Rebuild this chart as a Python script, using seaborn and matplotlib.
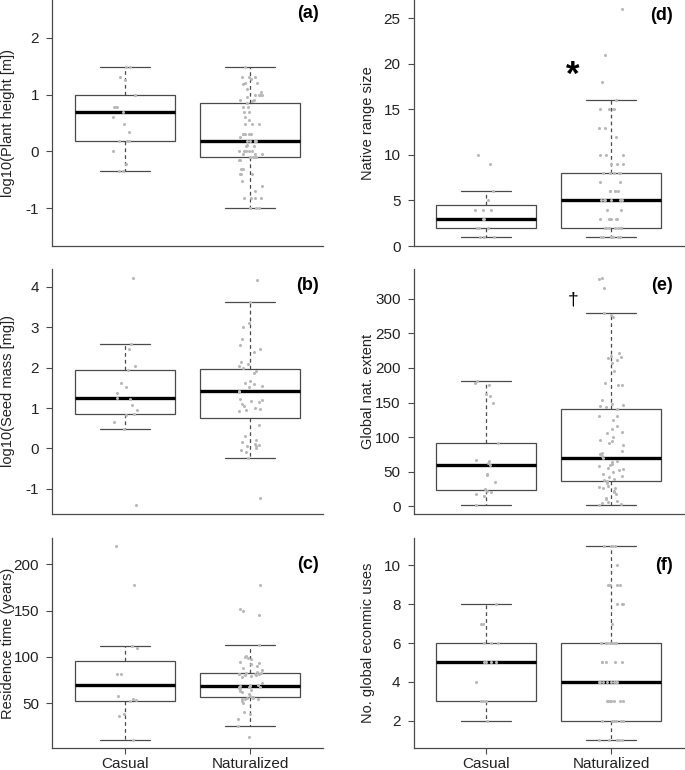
import numpy as np
import pandas as pd
import matplotlib
matplotlib.use("Agg")
import matplotlib.pyplot as plt
import seaborn as sns

sns.set_theme(style="ticks")
plt.rcParams["font.family"] = ["Liberation Sans", "DejaVu Sans"]

groups = ["Casual", "Naturalized"]

# box stats per group: [whisker low, q1, median, q3, whisker high]
# (a) log10 plant height
height_cas = [1.48, 1.48, 1.30, 1.25, 1.00, 1.00, 0.78, 0.78, 0.78, 0.70, 0.60, 0.48,
              0.35, 0.18, 0.18, 0.18, 0.00, -0.22, -0.35, -0.35]
height_nat = [1.48, 1.30, 1.30, 1.30, 1.28, 1.20, 1.20, 1.18, 1.10, 1.05, 1.00, 1.00,
              1.00, 1.00, 0.95, 0.90, 0.90, 0.88, 0.85, 0.78, 0.78, 0.70, 0.70, 0.60,
              0.55, 0.48, 0.48, 0.48, 0.30, 0.30, 0.30, 0.30, 0.30, 0.25, 0.18, 0.18,
              0.18, 0.18, 0.18, 0.18, 0.12, 0.10, 0.10, 0.00, 0.00, 0.00, 0.00, 0.00,
              -0.05, -0.05, -0.05, -0.10, -0.10, -0.10, -0.10, -0.15, -0.15, -0.30,
              -0.30, -0.40, -0.40, -0.40, -0.52, -0.60, -0.70, -0.82, -0.82, -0.82,
              -0.82, -1.00, -1.00, -1.00]
height_box_cas = [-0.35, 0.18, 0.70, 1.00, 1.48]
height_box_nat = [-1.00, -0.09, 0.18, 0.85, 1.48]

# (b) log10 seed mass
seed_cas = [4.22, 2.58, 2.47, 2.05, 1.93, 1.62, 1.52, 1.36, 1.25, 1.22, 1.07, 0.95,
            0.85, 0.82, 0.66, 0.48, -1.40]
seed_nat = [4.18, 3.62, 3.10, 3.00, 2.72, 2.55, 2.47, 2.38, 2.15, 2.10, 2.05, 1.98,
            1.92, 1.87, 1.68, 1.63, 1.60, 1.55, 1.52, 1.42, 1.40, 1.22, 1.20, 1.18,
            1.15, 1.10, 1.05, 1.00, 0.98, 0.95, 0.92, 0.58, 0.30, 0.20, 0.15, 0.10,
            0.08, 0.05, 0.05, 0.00, -0.05, -0.10, -0.25, -1.22]
seed_box_cas = [0.48, 0.85, 1.25, 1.95, 2.58]
seed_box_nat = [-0.25, 0.75, 1.42, 1.97, 3.62]

# (c) residence time
res_cas = [220, 178, 112, 110, 82, 82, 58, 55, 53, 52, 38, 36, 10]
res_nat = [178, 152, 150, 145, 113, 101, 100, 99, 98, 95, 93, 92, 90, 88, 86, 84,
           83, 83, 82, 82, 81, 81, 80, 80, 79, 78, 72, 70, 70, 69, 69, 68, 68, 67,
           66, 65, 64, 63, 62, 60, 58, 57, 57, 56, 56, 55, 55, 54, 52, 50, 41, 38,
           33, 25, 13]
res_box_cas = [10, 52, 70, 96, 112]
res_box_nat = [25, 57, 69, 83, 113]

# (d) native range size
range_cas = [10, 9, 6, 5, 4, 4, 4, 3, 3, 2, 2, 2, 1, 1, 1]
range_nat = [26, 21, 18, 16, 15, 15, 15, 15, 13, 13, 12, 10, 10, 10, 9, 9, 9, 8, 8,
             8, 8, 8, 7, 7, 6, 6, 6, 6, 6, 5, 5, 5, 5, 5, 5, 4, 4, 3, 3, 3, 3, 3, 3,
             2, 2, 2, 2, 2, 2, 2, 2, 1, 1, 1, 1, 1, 1, 1]
range_box_cas = [1, 2, 3, 4.5, 6]
range_box_nat = [1, 2, 5, 8, 16]

# (e) global naturalization extent
ext_cas = [181, 178, 176, 163, 160, 150, 91, 67, 66, 63, 60, 47, 45, 35, 25, 22, 21,
           18, 15, 2]
ext_nat = [330, 328, 316, 280, 276, 274, 222, 217, 216, 215, 212, 207, 196, 178, 176,
           176, 153, 148, 146, 145, 143, 140, 131, 131, 125, 116, 112, 108, 106, 100,
           96, 95, 92, 88, 80, 77, 75, 72, 70, 66, 64, 61, 59, 58, 55, 54, 53, 49, 47,
           44, 42, 40, 38, 36, 34, 30, 28, 27, 26, 22, 20, 18, 12, 10, 8, 6, 5, 3, 2]
ext_box_cas = [2, 23, 59, 91, 181]
ext_box_nat = [2, 37, 70, 140, 280]

# (f) global economic uses
uses_cas = [8, 7, 7, 6, 6, 6, 5, 5, 5, 5, 4, 3, 3, 3, 2]
uses_nat = [11, 11, 11, 11, 10, 9, 9, 9, 9, 9, 8, 8, 8, 7, 6, 6, 6, 6, 6, 6, 6,
            5, 5, 5, 5, 5, 4, 4, 4, 4, 4, 4, 4, 4, 3, 3, 3, 3, 3, 3, 3,
            2, 2, 2, 2, 2, 2, 2, 1, 1, 1, 1, 1]
uses_box_cas = [2, 3, 5, 6, 8]
uses_box_nat = [1, 2, 4, 6, 11]

edge = "#4a4a4a"
np.random.seed(3)


def draw_panel(ax, cas, nat, box_cas, box_nat, ylabel, yticks, ylim, tag, tag_xy,
               label_x, bottom=False):
    stats = []
    for name, b in zip(groups, [box_cas, box_nat]):
        stats.append({"label": name, "whislo": b[0], "q1": b[1], "med": b[2],
                      "q3": b[3], "whishi": b[4], "fliers": []})
    ax.bxp(stats, positions=[0, 1], widths=0.8, showfliers=False, patch_artist=True,
           manage_ticks=False,
           boxprops=dict(facecolor="white", edgecolor=edge, linewidth=0.9),
           medianprops=dict(color="black", linewidth=2.4, solid_capstyle="butt"),
           whiskerprops=dict(color=edge, linewidth=0.9, linestyle=(0, (3, 2.5))),
           capprops=dict(color=edge, linewidth=0.9))

    df = pd.DataFrame({"group": ["Casual"] * len(cas) + ["Naturalized"] * len(nat),
                       "value": cas + nat})
    sns.stripplot(data=df, x="group", y="value", order=groups, jitter=0.1,
                  color="#b8b8b8", size=2.2, linewidth=0, ax=ax, zorder=3)

    ax.set_xlim(-0.58, 1.58)
    ax.set_ylim(ylim)
    ax.set_yticks(yticks)
    ax.set_yticklabels([str(t) for t in yticks])
    ax.set_xlabel("")
    ax.set_ylabel(ylabel, fontsize=10.5, color="#222222")
    ax.yaxis.label.set_verticalalignment("center")
    ax.yaxis.set_label_coords(label_x, 0.5)
    sns.despine(ax=ax)
    for s in ["left", "bottom"]:
        ax.spines[s].set_color(edge)
        ax.spines[s].set_linewidth(0.9)
    ax.tick_params(axis="y", length=4.3, width=0.8, color=edge, labelsize=11,
                   labelcolor="#222222", pad=5)
    if bottom:
        ax.set_xticks([0, 1])
        ax.set_xticklabels(groups)
        ax.tick_params(axis="x", length=4.3, width=0.8, color=edge, labelsize=11,
                       labelcolor="#222222", pad=2)
    else:
        ax.tick_params(axis="x", bottom=False, labelbottom=False)
    ax.text(tag_xy[0], tag_xy[1], tag, ha="right", va="center", fontsize=13,
            fontweight="bold", color="black")


fig = plt.figure(figsize=(6.85, 7.7), dpi=100)
left_l, left_r = 52 / 685, 413.5 / 685
w_l, w_r = 271 / 685, 270 / 685
rows = [(0.6805, 0.3195), (0.3325, 0.3182), (0.02857, 0.2727)]

ax_a = fig.add_axes([left_l, rows[0][0], w_l, rows[0][1]])
ax_b = fig.add_axes([left_l, rows[1][0], w_l, rows[1][1]])
ax_c = fig.add_axes([left_l, rows[2][0], w_l, rows[2][1]])
ax_d = fig.add_axes([left_r, rows[0][0], w_r, rows[0][1]])
ax_e = fig.add_axes([left_r, rows[1][0], w_r, rows[1][1]])
ax_f = fig.add_axes([left_r, rows[2][0], w_r, rows[2][1]])

draw_panel(ax_a, height_cas, height_nat, height_box_cas, height_box_nat,
           "log10(Plant height [m])", [-1, 0, 1, 2], (-1.66, 2.66), "(a)",
           (1.544, 2.43), -0.162)
draw_panel(ax_b, seed_cas, seed_nat, seed_box_cas, seed_box_nat,
           "log10(Seed mass [mg])", [-1, 0, 1, 2, 3, 4], (-1.625, 4.445), "(b)",
           (1.544, 4.03), -0.162)
draw_panel(ax_c, res_cas, res_nat, res_box_cas, res_box_nat,
           "Residence time (years)", [50, 100, 150, 200], (1.6, 228.4), "(c)",
           (1.544, 200), -0.162, bottom=True)
draw_panel(ax_d, range_cas, range_nat, range_box_cas, range_box_nat,
           "Native range size", [0, 5, 10, 15, 20, 25], (0, 27), "(d)",
           (1.496, 25.35), -0.169)
draw_panel(ax_e, ext_cas, ext_nat, ext_box_cas, ext_box_nat,
           "Global nat. extent", [0, 50, 100, 150, 200, 250, 300], (-11.1, 343.1), "(e)",
           (1.496, 319), -0.169)
draw_panel(ax_f, uses_cas, uses_nat, uses_box_cas, uses_box_nat,
           "No. global econmic uses", [2, 4, 6, 8, 10], (0.6, 11.4), "(f)",
           (1.496, 10), -0.169, bottom=True)

# significance marks
ax_d.text(0.696, 17.7, "*", ha="center", va="baseline", fontsize=25,
          fontweight="bold", color="black")
ax_e.text(0.696, 292, "\u2020", ha="center", va="baseline", fontsize=14, color="black")

fig.savefig("out.png", dpi=100)
